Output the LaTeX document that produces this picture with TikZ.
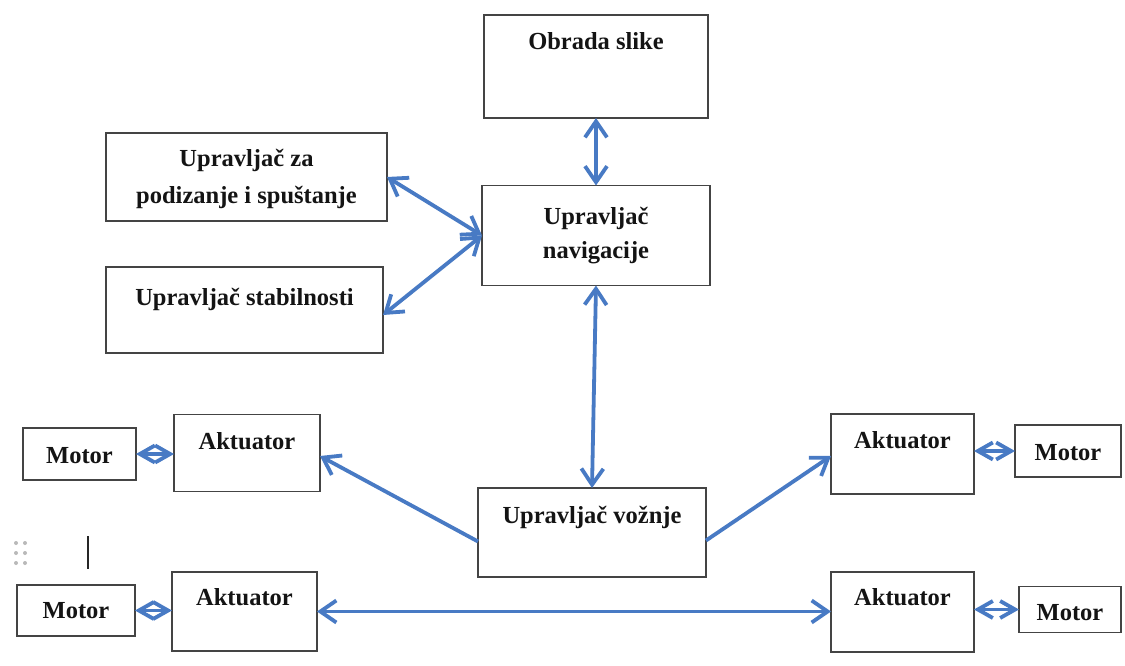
\documentclass[tikz,border=0pt]{standalone}
\usepackage{fontspec}
\setmainfont{Liberation Serif}
\usetikzlibrary{arrows.meta}
\definecolor{arrowblue}{RGB}{72,122,196}
\definecolor{boxgray}{RGB}{68,68,68}
\begin{document}
\begin{tikzpicture}[x=1pt,y=-1pt,
  box/.style={draw=boxgray, line width=1.8pt, inner sep=0pt, outer sep=0pt},
  txt/.style={font=\fontsize{24.5}{30}\selectfont\bfseries, inner sep=0pt, anchor=base, text=black!92},
  conn/.style={draw=arrowblue, line width=3.8pt},
  bigtip/.style={-{Straight Barb[length=16pt,width=22pt]}},
  bigboth/.style={{Straight Barb[length=16pt,width=22pt]}-{Straight Barb[length=16pt,width=22pt]}},
  smallboth/.style={{Straight Barb[length=15pt,width=17pt]}-{Straight Barb[length=15pt,width=17pt]}}
]
\useasboundingbox (0,0) rectangle (1125,666);
\fill[white] (0,0) rectangle (1125,666);

% boxes
\node[box, minimum width=224pt, minimum height=103pt] (obrada) at (596,66.5) {};
\node[box, minimum width=281pt, minimum height=88pt] (za) at (246.5,177) {};
\node[box, minimum width=228pt, minimum height=100pt] (nav) at (596,235.5) {};
\node[box, minimum width=277pt, minimum height=86pt] (stab) at (244.5,310) {};
\node[box, minimum width=228pt, minimum height=89pt] (voz) at (592,532.5) {};
\node[box, minimum width=146pt, minimum height=77pt] (akTL) at (247,453) {};
\node[box, minimum width=113pt, minimum height=52pt] (moTL) at (79.5,454) {};
\node[box, minimum width=143pt, minimum height=80pt] (akTR) at (902.5,454) {};
\node[box, minimum width=106pt, minimum height=52pt] (moTR) at (1068,451) {};
\node[box, minimum width=145pt, minimum height=79pt] (akBL) at (244.5,611.5) {};
\node[box, minimum width=118pt, minimum height=51pt] (moBL) at (76,610.5) {};
\node[box, minimum width=143pt, minimum height=80pt] (akBR) at (902.5,612) {};
\node[box, minimum width=102pt, minimum height=46pt] (moBR) at (1070,609.5) {};

% texts
\node[txt] (obradaT) at (596,50) {Obrada slike};
\node[txt] (zaT1) at (246.5,167) {Upravljač za};
\node[txt] (zaT2) at (246.5,204) {podizanje i spuštanje};
\node[txt] (navT1) at (596,224) {Upravljač};
\node[txt] (navT2) at (596,258) {navigacije};
\node[txt] (stabT) at (244.5,305) {Upravljač stabilnosti};
\node[txt] (vozT) at (592,523) {Upravljač vožnje};
\node[txt] (akTLT) at (247,449) {Aktuator};
\node[txt] (akTRT) at (902.5,448) {Aktuator};
\node[txt] (akBLT) at (244.5,605) {Aktuator};
\node[txt] (akBRT) at (902.5,605) {Aktuator};
\node[txt] (moTLT) at (79.5,463) {Motor};
\node[txt] (moTRT) at (1068,460) {Motor};
\node[txt] (moBLT) at (76,618) {Motor};
\node[txt] (moBRT) at (1070,620) {Motor};

% connectors
\draw[conn, bigboth] (obrada.south) -- (nav.north);
\draw[conn, bigboth] (za.east) -- (nav.west);
\draw[conn, bigboth] ([yshift=-5pt]stab.east) -- (nav.west);
\draw[conn, bigboth] (nav.south) -- (voz.north);
\draw[conn, bigtip] ([yshift=-9pt]voz.west) -- ([yshift=-3pt]akTL.east);
\draw[conn, bigtip] ([yshift=-8pt]voz.east) -- ([yshift=-2pt]akTR.west);
\draw[conn, bigboth] (akBL.east) -- (akBR.west |- akBL.east);
\draw[conn, smallboth] (moTL.east) -- (akTL.west |- moTL.east);
\draw[conn, smallboth] (akTR.east |- moTR.west) -- (moTR.west);
\draw[conn, smallboth] (moBL.east) -- (akBL.west |- moBL.east);
\draw[conn, smallboth] (akBR.east |- moBR.west) -- (moBR.west);

% editor artefacts
\foreach \yy in {543,553,563}{
  \fill[gray!55] (16,\yy) circle (2pt);
  \fill[gray!55] (25,\yy) circle (2pt);
}
\draw[line width=2.5pt, black!85] (88,536) -- (88,569);
\end{tikzpicture}
\end{document}
